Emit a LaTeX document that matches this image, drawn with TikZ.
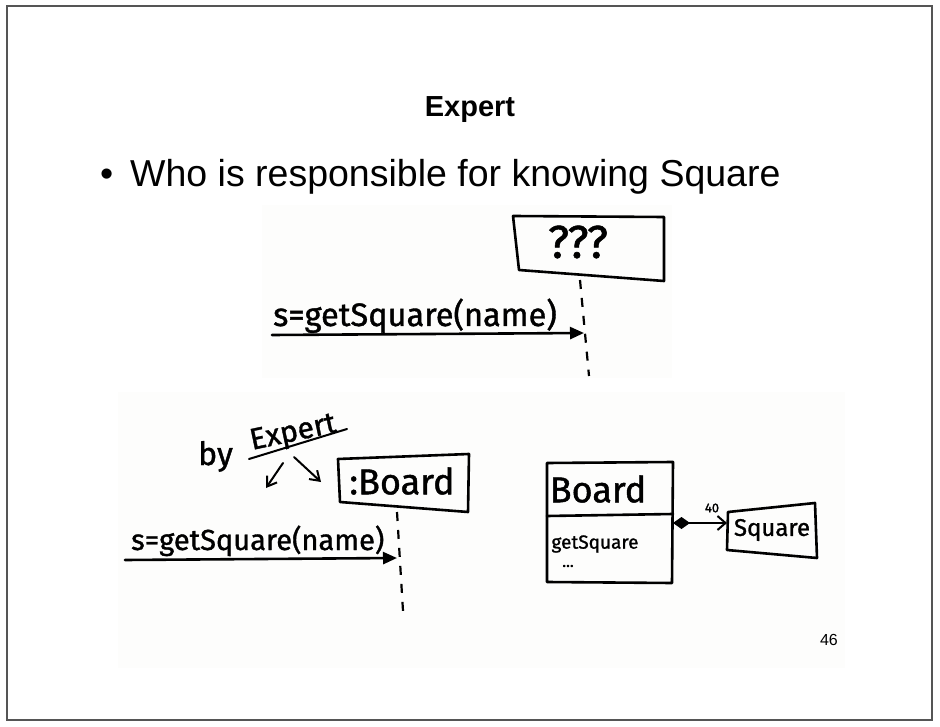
\documentclass[tikz,border=0pt]{standalone}
\usepackage{fontspec}
\setmainfont{Liberation Sans}
\newfontfamily\hand{Fira Sans}[FakeBold=1.2]
\usetikzlibrary{arrows.meta,calc}
\definecolor{frame}{RGB}{85,85,85}
\definecolor{paper}{RGB}{253,253,252}
\tikzset{
  ink/.style={line width=2.6pt, line cap=round, line join=round, black},
  thin ink/.style={line width=2pt, line cap=round, line join=round, black},
  lifeline/.style={line width=2.2pt, black, dash pattern=on 9pt off 9pt},
  message/.style={ink, -{Triangle[length=14pt,width=12pt]}},
  hand text/.style={font=\hand, inner sep=0pt},
}
\begin{document}
\begin{tikzpicture}[x=1pt,y=-1pt]
  \useasboundingbox (0,0) rectangle (940,727);
  % slide frame
  \draw[frame, line width=2pt] (7,6) rectangle (932,720);

  % slide heading and bullet
  \node[anchor=base, font=\bfseries\fontsize{29}{32}\selectfont] (title) at (470,117) {Expert};
  \node[anchor=base west, inner sep=0pt, font=\fontsize{37.5}{42}\selectfont] (bullet) at (100,187) {\textbullet};
  \node[anchor=base west, inner sep=0pt, font=\fontsize{37.5}{42}\selectfont] (question) at (130,187) {Who is responsible for knowing Square};

  % paper sheets of the two sketches
  \fill[paper] (262,205) rectangle (672,378);
  \fill[paper] (118,392) rectangle (845,668);

  % ---- upper sketch: unknown receiver ----
  \coordinate (u-tl) at (513,216);
  \coordinate (u-tr) at (664,217);
  \coordinate (u-br) at (664,281);
  \coordinate (u-bl) at (519,270);
  \draw[ink] (u-tl) -- (u-tr) -- (u-br) -- (u-bl) -- cycle;
  \node[hand text, font=\hand\fontsize{46}{46}\selectfont] (unknown) at (578,242) {???};
  \coordinate (u-life-top) at (580,280);
  \coordinate (u-life-end) at (589,376);
  \draw[lifeline] (u-life-top) -- (u-life-end);
  \coordinate (m1-start) at (272,335);
  \coordinate (m1-end) at (584,333);
  \draw[message] (m1-start) -- (m1-end);
  \node[hand text, anchor=base west, font=\hand\fontsize{32.5}{33}\selectfont] (m1-label) at (273,326) {s=getSquare(name)};

  % ---- lower sketch: Board chosen by Expert ----
  \node[hand text, anchor=base west, font=\hand\fontsize{32}{32}\selectfont] (by) at (198,465) {by};
  \node[hand text, anchor=base west, rotate=12, font=\hand\fontsize{30}{30}\selectfont] (expert) at (252,450) {Expert};
  \coordinate (ul-a) at (249,459);
  \coordinate (ul-b) at (347,429);
  \draw[thin ink] (ul-a) -- (ul-b);
  \coordinate (h1-a) at (283,463);
  \coordinate (h1-b) at (266,488);
  \draw[thin ink, -{Straight Barb[length=9pt,width=12pt]}] (h1-a) -- (h1-b);
  \coordinate (h2-a) at (294,457);
  \coordinate (h2-b) at (321,482);
  \draw[thin ink, -{Straight Barb[length=9pt,width=12pt]}] (h2-a) -- (h2-b);

  \coordinate (b-tl) at (338,459);
  \coordinate (b-tr) at (469,454);
  \coordinate (b-br) at (468,512);
  \coordinate (b-bl) at (340,502);
  \draw[ink] (b-tl) -- (b-tr) -- (b-br) -- (b-bl) -- cycle;
  \node[hand text, font=\hand\fontsize{36}{36}\selectfont] (board-obj) at (402,481) {:Board};
  \coordinate (b-life-top) at (397,512);
  \coordinate (b-life-end) at (403,611);
  \draw[lifeline] (b-life-top) -- (b-life-end);
  \coordinate (m2-start) at (125,560);
  \coordinate (m2-end) at (397,558);
  \draw[message] (m2-start) -- (m2-end);
  \node[hand text, anchor=base west, font=\hand\fontsize{29}{29}\selectfont] (m2-label) at (131,550) {s=getSquare(name)};

  % ---- class sketch: Board composed of Squares ----
  \coordinate (c-tl) at (547,463);
  \coordinate (c-tr) at (673,462);
  \coordinate (c-br) at (672,583);
  \coordinate (c-bl) at (547,582);
  \draw[ink] (c-tl) -- (c-tr) -- (c-br) -- (c-bl) -- cycle;
  \coordinate (c-div-l) at (547,516);
  \coordinate (c-div-r) at (673,514);
  \draw[ink] (c-div-l) -- (c-div-r);
  \node[hand text, font=\hand\fontsize{36}{36}\selectfont] (board-class) at (598,489) {Board};
  \node[hand text, font=\hand\fontsize{19}{19}\selectfont] (get-square) at (595,544) {getSquare};
  \node[hand text, font=\hand\fontsize{16}{16}\selectfont] (more) at (568,566) {...};

  \coordinate (s-tl) at (728,512);
  \coordinate (s-tr) at (815,503);
  \coordinate (s-br) at (817,558);
  \coordinate (s-bl) at (727,550);
  \draw[ink] (s-tl) -- (s-tr) -- (s-br) -- (s-bl) -- cycle;
  \node[hand text, font=\hand\fontsize{24}{24}\selectfont] (square) at (772,530) {Square};

  \coordinate (comp-a) at (673,523);
  \coordinate (comp-b) at (727,523);
  \draw[thin ink, {Diamond[fill=black,length=17pt,width=12pt]}-{Straight Barb[length=8pt,width=14pt]}] (comp-a) -- (comp-b);
  \node[hand text, font=\hand\fontsize{13}{13}\selectfont] (mult) at (712,508) {40};

  % page number
  \node[anchor=base east, inner sep=0pt, font=\fontsize{16}{18}\selectfont] (page) at (838,645) {46};
\end{tikzpicture}
\end{document}
